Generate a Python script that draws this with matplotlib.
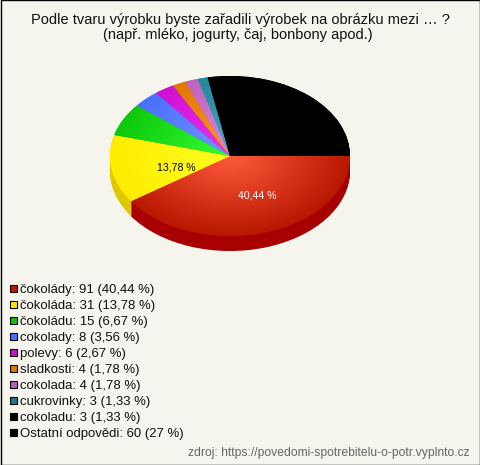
import numpy as np
import matplotlib
matplotlib.use("Agg")
import matplotlib.pyplot as plt
from matplotlib.colors import to_rgb
from matplotlib.patches import Rectangle

plt.rcParams["font.family"] = ["Liberation Sans", "DejaVu Sans"]

W, H = 480, 465
BG = "#F5F5EE"

LABELS = ["čokolády", "čokoláda", "čokoládu", "cokolady", "polevy", "sladkosti",
          "cokolada", "cukrovinky", "cokoladu", "Ostatní odpovědi"]
VALUES = [91, 31, 15, 8, 6, 4, 4, 3, 3, 60]
PCT_TXT = ["40,44", "13,78", "6,67", "3,56", "2,67", "1,78", "1,78", "1,33", "1,33", "27"]
C_INNER = ["#FF5A3C", "#FFFF22", "#33FF33", "#7594FF", "#EE33F0", "#FF9A22",
           "#DD88E0", "#44AACC", "#000000", "#000000"]
C_OUTER = ["#B81800", "#FFEC00", "#0CC80C", "#4A70FF", "#CC11D0", "#E07700",
           "#BB66BB", "#228899", "#000000", "#000000"]
C_LEGEND = ["#C01800", "#FFE800", "#10C010", "#4A70FF", "#CC11CC", "#E07700",
            "#BB60B8", "#1A7A90", "#000000", "#000000"]
C_SIDE = ["#A80000", "#E0C800", "#0A9A0A", "#3555C0", "#A00CA0", "#B05C00",
          "#905090", "#1A6A7A", "#000000", "#000000"]

fig = plt.figure(figsize=(W / 100, H / 100), dpi=100, facecolor=BG)

# overlay in pixel coords for texts
bg = fig.add_axes([0, 0, 1, 1])
bg.set_xlim(0, W); bg.set_ylim(H, 0); bg.axis("off")
bg.add_patch(Rectangle((0.5, 0.5), W - 1, H - 1, fc=BG, ec="black", lw=1))

bg.text(240, 20, "Podle tvaru výrobku byste zařadili výrobek na obrázku mezi … ?",
        ha="center", va="center", fontsize=10.55, color="#111111")
bg.text(237.5, 35.5, "(např. mléko, jogurty, čaj, bonbony apod.)",
        ha="center", va="center", fontsize=10.55, color="#111111")

for i, (lab, v, p, c) in enumerate(zip(LABELS, VALUES, PCT_TXT, C_LEGEND)):
    y = 289 + 16 * i
    bg.add_patch(Rectangle((9.5, y - 4), 7, 7, fc=c, ec="black", lw=0.8))
    bg.text(20, y + 0.5, f"{lab}: {v} ({p} %)", ha="left", va="center", fontsize=9.45, color="#111111")

bg.text(470, 453, "zdroj: https://povedomi-spotrebitelu-o-potr.vyplnto.cz",
        ha="right", va="center", fontsize=8.75, color="#666666")

# pie axes: -1..1 maps to x 110..350 and y 236..76 px
cx, cy, rx, ry = 230, 156, 120, 80
depth = 15 / ry
x0, x1 = -1.1, 1.1
y0, y1 = -1.4, 1.1
left = (cx + x0 * rx) / W
bottom = 1 - (cy - y0 * ry) / H
ax = fig.add_axes([left, bottom, (x1 - x0) * rx / W, (y1 - y0) * ry / H])
ax.patch.set_alpha(0)

# side wall = stack of dark pies
for d in np.linspace(depth, 0.01, 20):
    ax.pie(VALUES, colors=C_SIDE, startangle=0, counterclock=False, center=(0, -d),
           radius=1, frame=True, wedgeprops={"lw": 0})

wedges, _ = ax.pie(VALUES, colors=C_OUTER, startangle=0, counterclock=False,
                   radius=1, frame=True, wedgeprops={"lw": 0})

gx, gy = np.meshgrid(np.linspace(-1, 1, 300), np.linspace(-1, 1, 300))
rr = np.clip(np.hypot(gx, gy), 0, 1)[..., None]
for w, ci, co in zip(wedges, C_INNER, C_OUTER):
    img = np.array(to_rgb(ci)) * (1 - rr) + np.array(to_rgb(co)) * rr
    im = ax.imshow(img, extent=(-1, 1, -1, 1), origin="lower", aspect="auto", zorder=3,
                   interpolation="bilinear")
    im.set_clip_path(w)

ax.set_aspect("auto")
ax.set_xlim(x0, x1); ax.set_ylim(y0, y1)
ax.set_xticks([]); ax.set_yticks([])
for s in ax.spines.values():
    s.set_visible(False)

ax.text((257 - cx) / rx, (cy - 195) / ry, f"{PCT_TXT[0]} %", color="white",
        ha="center", va="center", fontsize=7.6, zorder=5)
ax.text((176 - cx) / rx, (cy - 167) / ry, f"{PCT_TXT[1]} %", color="black",
        ha="center", va="center", fontsize=7.6, zorder=5)

fig.savefig("out.png", dpi=100, facecolor=BG)
